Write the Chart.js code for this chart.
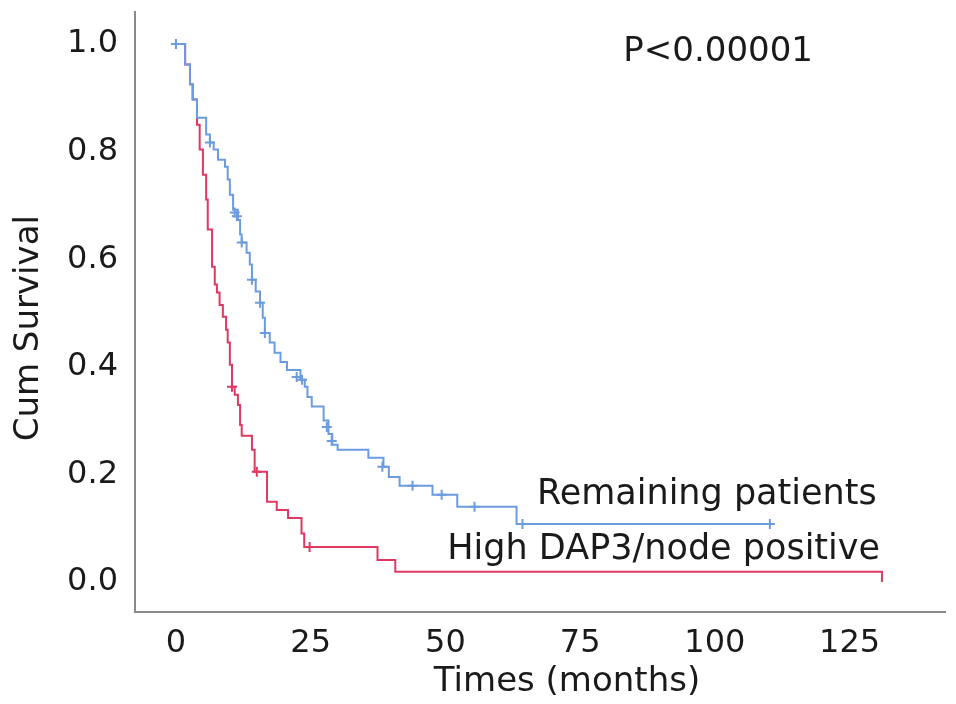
<!DOCTYPE html>
<html lang="en">
<head>
    <meta charset="utf-8">
    <title>Cum Survival</title>
    <style>
        html, body { margin: 0; padding: 0; background: #fff; }
        #chart { display: block; }
    </style>
</head>
<body>
    <canvas id="chart" width="956" height="704"></canvas>
    <script src="https://cdn.jsdelivr.net/npm/chart.js"></script>
    <script>
        // Kaplan-Meier steps (months, cum survival)
        const redTimes = [0, 1.7, 2.6, 3.1, 3.9, 4.4, 5.0, 5.6, 5.9, 6.7, 7.2, 7.6, 8.1, 8.7, 9.3, 9.6, 10.0, 10.4, 10.9, 11.5, 11.9, 12.2, 14.1, 14.6, 16.9, 18.7, 20.8, 23.3, 23.8, 37.4, 40.7, 131];
        const redSurv = [1.0, 0.962, 0.925, 0.897, 0.850, 0.804, 0.757, 0.711, 0.655, 0.586, 0.553, 0.538, 0.515, 0.493, 0.469, 0.445, 0.404, 0.363, 0.348, 0.329, 0.292, 0.272, 0.246, 0.205, 0.149, 0.134, 0.119, 0.090, 0.065, 0.041, 0.019, 0.0];
        const redCensorTimes = [10.4, 15.0, 24.8];
        const redCensorSurv = [0.363, 0.205, 0.065];

        const blueTimes = [0, 1.7, 2.6, 3.1, 3.9, 5.6, 6.3, 7.0, 7.8, 9.1, 9.6, 10.0, 10.6, 11.5, 11.9, 12.2, 13.1, 13.7, 14.1, 14.8, 15.6, 16.1, 16.5, 17.4, 18.3, 19.4, 20.6, 23.1, 23.9, 24.4, 25.2, 27.4, 28.3, 29.0, 30.0, 35.7, 38.5, 39.5, 41.5, 47.6, 52.2, 63.2, 110.2];
        const blueSurv = [1.0, 0.962, 0.925, 0.897, 0.863, 0.832, 0.817, 0.804, 0.785, 0.772, 0.748, 0.720, 0.692, 0.673, 0.646, 0.631, 0.612, 0.590, 0.562, 0.540, 0.519, 0.491, 0.463, 0.445, 0.426, 0.409, 0.394, 0.376, 0.363, 0.344, 0.326, 0.300, 0.275, 0.255, 0.246, 0.231, 0.214, 0.195, 0.179, 0.162, 0.140, 0.108, 0.108];
        const blueCensorTimes = [0, 6.3, 10.9, 11.3, 12.2, 14.1, 15.6, 16.5, 22.4, 23.4, 28.0, 28.9, 38.3, 43.9, 49.3, 55.4, 64.3, 110.2];
        const blueCensorSurv = [1.0, 0.817, 0.687, 0.680, 0.631, 0.562, 0.519, 0.463, 0.381, 0.376, 0.288, 0.262, 0.214, 0.179, 0.162, 0.140, 0.108, 0.108];

        const xTicks = [0, 25, 50, 75, 100, 125];
        const yTicks = [0, 0.2, 0.4, 0.6, 0.8, 1.0];

        const toPoints = (xs, ys) => xs.map((x, i) => ({ x: x, y: ys[i] }));

        const RED = 'rgb(224, 56, 96)';
        const BLUE = 'rgb(108, 156, 224)';

        Chart.defaults.font.family = 'DejaVu Sans';
        Chart.defaults.color = '#1a1a1a';

        // text labels placed in data units
        const labelsPlugin = {
            id: 'kmLabels',
            afterDatasetsDraw(chart) {
                const { ctx, scales: { x, y } } = chart;
                ctx.save();
                ctx.fillStyle = '#1a1a1a';
                ctx.textAlign = 'center';
                ctx.textBaseline = 'middle';
                ctx.font = '34px "DejaVu Sans"';
                ctx.fillText('P<0.00001', x.getPixelForValue(100.6), y.getPixelForValue(0.985));
                ctx.font = '35px "DejaVu Sans"';
                ctx.fillText('Remaining patients', x.getPixelForValue(98.5), y.getPixelForValue(0.162));
                ctx.fillText('High DAP3/node positive', x.getPixelForValue(90.5), y.getPixelForValue(0.059));
                ctx.restore();
            }
        };

        new Chart(document.getElementById('chart'), {
            type: 'line',
            data: {
                datasets: [
                    {
                        label: 'Remaining patients',
                        data: toPoints(blueTimes, blueSurv),
                        borderColor: BLUE,
                        borderWidth: 2,
                        stepped: 'before',
                        pointRadius: 0,
                        fill: false
                    },
                    {
                        label: 'Remaining patients censored',
                        data: toPoints(blueCensorTimes, blueCensorSurv),
                        showLine: false,
                        pointStyle: 'cross',
                        pointRadius: 5,
                        pointBorderWidth: 2,
                        borderColor: BLUE,
                        backgroundColor: BLUE
                    },
                    {
                        label: 'High DAP3/node positive',
                        data: toPoints(redTimes, redSurv),
                        borderColor: RED,
                        borderWidth: 2,
                        stepped: 'before',
                        pointRadius: 0,
                        fill: false
                    },
                    {
                        label: 'High DAP3/node positive censored',
                        data: toPoints(redCensorTimes, redCensorSurv),
                        showLine: false,
                        pointStyle: 'cross',
                        pointRadius: 5,
                        pointBorderWidth: 2,
                        borderColor: RED,
                        backgroundColor: RED
                    }
                ]
            },
            options: {
                responsive: false,
                animation: false,
                layout: { padding: { top: 12, right: 11, left: 0, bottom: 0 } },
                plugins: {
                    legend: { display: false },
                    tooltip: { enabled: false }
                },
                scales: {
                    x: {
                        type: 'linear',
                        min: -7.6,
                        max: 142.7,
                        afterFit: s => { s.height = 92; s.paddingLeft = 0; s.paddingRight = 0; },
                        afterBuildTicks: s => { s.ticks = xTicks.map(v => ({ value: v })); },
                        grid: { display: false },
                        border: { display: true, color: '#8a8a8a', width: 2 },
                        ticks: { font: { size: 32 }, padding: 4, maxRotation: 0, autoSkip: false },
                        title: {
                            display: true,
                            text: '\u00a0\u00a0\u00a0\u00a0\u00a0Times (months)',
                            font: { size: 34 },
                            padding: { top: 0, bottom: 1 }
                        }
                    },
                    y: {
                        type: 'linear',
                        min: -0.0558,
                        max: 1.0595,
                        afterFit: s => { s.width = 135; s.paddingTop = 0; s.paddingBottom = 0; },
                        afterBuildTicks: s => { s.ticks = yTicks.map(v => ({ value: v })); },
                        grid: { display: false },
                        border: { display: true, color: '#8a8a8a', width: 2 },
                        ticks: {
                            font: { size: 32 },
                            padding: 9,
                            callback: v => Number(v).toFixed(1)
                        },
                        title: {
                            display: true,
                            text: 'Cum Survival\u00a0\u00a0\u00a0',
                            font: { size: 34 },
                            padding: { top: 9, bottom: 0 }
                        }
                    }
                }
            },
            plugins: [labelsPlugin]
        });
    </script>
</body>
</html>
